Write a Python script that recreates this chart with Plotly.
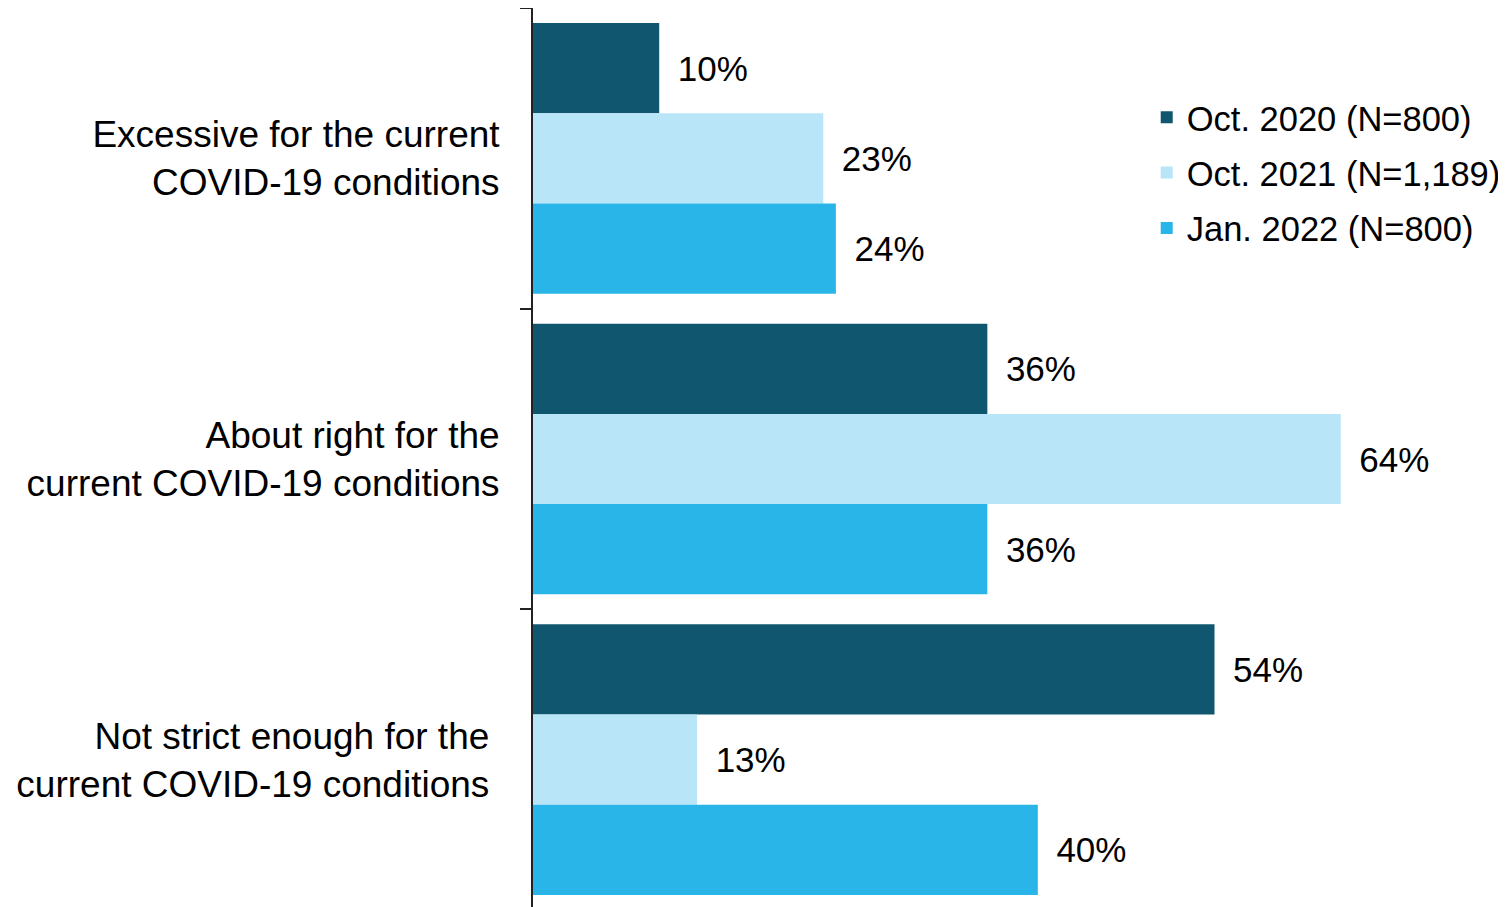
import plotly.graph_objects as go

categories = [
    "Excessive for the current<br>COVID-19 conditions",
    "About right for the<br>current COVID-19 conditions",
    "Not strict enough for the\u00a0<br>current COVID-19 conditions\u00a0",
]
series_names = ["Oct. 2020 (N=800)", "Oct. 2021 (N=1,189)", "Jan. 2022 (N=800)"]
oct2020 = [10, 36, 54]
oct2021 = [23, 64, 13]
jan2022 = [24, 36, 40]
colors = ["#11566f", "#b8e6f8", "#29b5e8"]

FONT = "Liberation Sans, Arial, sans-serif"

fig = go.Figure()
for i, (name, vals) in enumerate(zip(series_names, [oct2020, oct2021, jan2022])):
    fig.add_trace(go.Bar(
        y=categories,
        x=vals,
        name=name,
        orientation="h",
        marker=dict(color=colors[i], line=dict(width=0)),
        text=vals,
        texttemplate="\u00a0\u2006%{x}%",
        textposition="outside",
        textfont=dict(size=35, color="#000000", family=FONT),
        cliponaxis=False,
        legendgroup=f"g{i}",
    ))

fig.update_layout(
    width=1498,
    height=907,
    margin=dict(l=525, r=0, t=0, b=5),
    paper_bgcolor="white",
    plot_bgcolor="white",
    barmode="group",
    bargap=0.1,
    bargroupgap=0,
    font=dict(family=FONT, size=35, color="#000000"),
    showlegend=True,
    legend=dict(
        x=0.634,
        y=0.911,
        xanchor="left",
        yanchor="top",
        font=dict(size=34.5, family=FONT, color="#000000"),
        tracegroupgap=7.5,
        bgcolor="rgba(0,0,0,0)",
    ),
    xaxis=dict(
        range=[0, 76.7],
        showticklabels=False,
        showgrid=False,
        zeroline=False,
        showline=False,
        ticks="",
    ),
    yaxis=dict(
        autorange="reversed",
        showline=True,
        linecolor="#222222",
        linewidth=2,
        ticks="outside",
        tickson="boundaries",
        ticklen=11,
        tickwidth=1.5,
        tickcolor="#222222",
        showgrid=False,
        tickfont=dict(size=37, family=FONT, color="#000000"),
        ticklabelstandoff=24,
    ),
)

fig.write_html("out.html")
